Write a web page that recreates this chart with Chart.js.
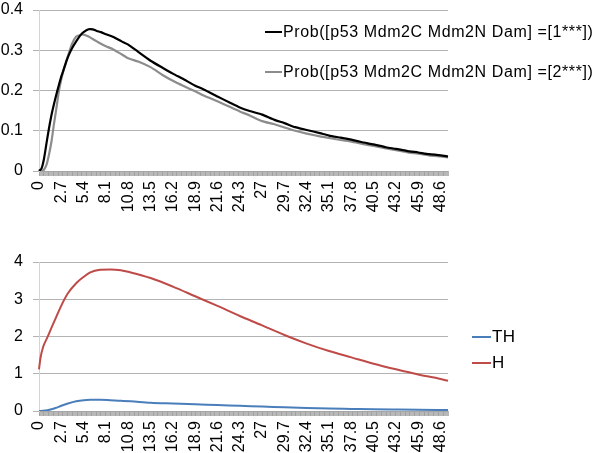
<!DOCTYPE html>
<html>
<head>
<meta charset="utf-8">
<script src="https://cdn.jsdelivr.net/npm/chart.js@4"></script>
<style>
body { margin: 0; background: #fff; }
#wrap { position: relative; width: 600px; height: 453px; overflow: hidden; font-family: "Liberation Sans", Arial, sans-serif; }
canvas { position: absolute; left: 0; }
.lg { position: absolute; display: flex; align-items: center; height: 20px; font-size: 16px; letter-spacing: 0.6px; color: #000; white-space: nowrap; }
.lg i { display: inline-block; width: 17px; height: 2px; margin-right: 1px; }
</style>
</head>
<body>
<div id="wrap">
  <canvas id="topChart" width="600" height="230" style="top:0"></canvas>
  <canvas id="botChart" width="600" height="223" style="top:230px"></canvas>
  <div class="lg" style="left:265px;top:22px"><i style="background:#000"></i>Prob([p53 Mdm2C Mdm2N Dam] =[1***])</div>
  <div class="lg" style="left:265px;top:62px"><i style="background:#8c8c8c"></i>Prob([p53 Mdm2C Mdm2N Dam] =[2***])</div>
  <div class="lg" style="left:472px;top:327px;letter-spacing:0.3px;font-size:17px"><i style="background:#4a7ebb;width:19px"></i>TH</div>
  <div class="lg" style="left:472px;top:353px;letter-spacing:0.3px;font-size:17px"><i style="background:#be4b48;width:19px"></i>H</div>
</div>
<script>
// time categories 0 .. 49.5, step 0.1
const times = [];
for (let i = 0; i <= 495; i++) times.push(String(+(i / 10).toFixed(1)));

const shownTicks = ['0', '2.7', '5.4', '8.1', '10.8', '13.5', '16.2', '18.9', '21.6', '24.3',
  '27', '29.7', '32.4', '35.1', '37.8', '40.5', '43.2', '45.9', '48.6'];

// top chart: probabilities
const probT = ['0', '0.3', '0.6', '0.9', '1.2', '1.5', '1.8', '2.1', '2.4', '2.7', '3', '3.3', '3.6', '4', '4.5',
  '5', '5.4', '6', '6.5', '7', '7.5', '8.1', '9', '10', '10.8', '12', '13.5', '15', '16.2', '17.5', '18.9', '20',
  '21.6', '23', '24.3', '25.5', '27', '28.5', '29.7', '31', '32.4', '34', '35.1', '36.5', '37.8', '39', '40.5',
  '42', '43.2', '44.5', '45.9', '47.2', '48.6', '49.5'];
const prob1 = [0, 0.006, 0.03, 0.068, 0.105, 0.138, 0.165, 0.19, 0.213, 0.235, 0.253, 0.272, 0.288, 0.305, 0.322,
  0.337, 0.345, 0.352, 0.352, 0.348, 0.345, 0.34, 0.333, 0.322, 0.314, 0.296, 0.274, 0.256, 0.242, 0.228, 0.212, 0.202,
  0.185, 0.171, 0.158, 0.149, 0.14, 0.127, 0.119, 0.109, 0.102, 0.094, 0.088, 0.083, 0.078, 0.072, 0.066,
  0.059, 0.055, 0.05, 0.046, 0.042, 0.039, 0.036];
const prob2 = [0, 0, 0.003, 0.015, 0.04, 0.072, 0.115, 0.155, 0.198, 0.228, 0.252, 0.273, 0.292, 0.316, 0.334,
  0.338, 0.339, 0.334, 0.328, 0.322, 0.316, 0.31, 0.302, 0.29, 0.28, 0.272, 0.258, 0.238, 0.224, 0.211, 0.198, 0.187,
  0.173, 0.16, 0.148, 0.138, 0.124, 0.116, 0.108, 0.1, 0.093, 0.086, 0.082, 0.077, 0.073, 0.068, 0.062,
  0.056, 0.052, 0.047, 0.043, 0.039, 0.036, 0.034];

// bottom chart: TH and H
const hT = ['0', '0.2', '0.5', '1', '1.5', '2', '2.7', '3.5', '4.5', '5.4', '6.2', '7.4', '8.6', '9.9', '11.1',
  '13.5', '16.2', '18.9', '21.6', '24.3', '27', '29.7', '32.4', '35.1', '37.8', '40.5', '43.2', '45.9', '48.6', '49.5'];
const thVals = [0, 0, 0.005, 0.02, 0.045, 0.08, 0.14, 0.2, 0.26, 0.29, 0.3, 0.3, 0.29, 0.275, 0.26,
  0.22, 0.2, 0.18, 0.16, 0.14, 0.12, 0.1, 0.08, 0.065, 0.055, 0.045, 0.038, 0.032, 0.028, 0.027];
const hVals = [1.12, 1.45, 1.72, 1.97, 2.23, 2.48, 2.83, 3.16, 3.43, 3.6, 3.72, 3.79, 3.8, 3.78, 3.72,
  3.57, 3.34, 3.08, 2.82, 2.55, 2.3, 2.04, 1.81, 1.61, 1.44, 1.27, 1.12, 0.98, 0.86, 0.81];

const fam = '"Liberation Sans", Arial, sans-serif';
const pts = (xs, ys) => xs.map((x, i) => ({ x: x, y: ys[i] }));

function xAxis(h) {
  return {
    type: 'category',
    offset: false,
    grid: { drawOnChartArea: false, drawTicks: true, tickLength: 5, color: '#9a9a9a', lineWidth: 0.7 },
    border: { display: true, color: '#a6a6a6' },
    ticks: {
      autoSkip: false, minRotation: 90, maxRotation: 90, padding: 5, color: '#000',
      font: { size: 16, family: fam },
      callback: (v, i) => shownTicks.includes(times[i]) ? times[i] : ''
    },
    afterFit: s => { s.height = h; s.paddingLeft = 0; s.paddingRight = 0; }
  };
}

function yAxis(max, step) {
  return {
    min: 0, max: max,
    ticks: { stepSize: step, padding: 10, color: '#000', font: { size: 16, family: fam } },
    grid: { color: '#b3b3b3', tickLength: 6 },
    border: { display: true, color: '#d4d4d4' },
    afterFit: s => { s.width = 39; s.paddingTop = 0; s.paddingBottom = 0; }
  };
}

new Chart(document.getElementById('topChart'), {
  type: 'line',
  data: {
    labels: times,
    datasets: [
      { data: pts(probT, prob1), borderColor: '#000', borderWidth: 2.2, pointRadius: 0, tension: 0.2 },
      { data: pts(probT, prob2), borderColor: '#8c8c8c', borderWidth: 2.2, pointRadius: 0, tension: 0.2 }
    ]
  },
  options: {
    responsive: false, animation: false,
    layout: { padding: { top: 10, right: 152, left: 0, bottom: 0 } },
    plugins: { legend: { display: false }, tooltip: { enabled: false } },
    scales: { x: xAxis(59), y: yAxis(0.4, 0.1) }
  }
});

new Chart(document.getElementById('botChart'), {
  type: 'line',
  data: {
    labels: times,
    datasets: [
      { data: pts(hT, thVals), borderColor: '#4a7ebb', borderWidth: 2, pointRadius: 0, cubicInterpolationMode: 'monotone' },
      { data: pts(hT, hVals), borderColor: '#be4b48', borderWidth: 2, pointRadius: 0, cubicInterpolationMode: 'monotone' }
    ]
  },
  options: {
    responsive: false, animation: false,
    layout: { padding: { top: 32, right: 152, left: 0, bottom: 0 } },
    plugins: { legend: { display: false }, tooltip: { enabled: false } },
    scales: { x: xAxis(42), y: yAxis(4, 1) }
  }
});
</script>
</body>
</html>
